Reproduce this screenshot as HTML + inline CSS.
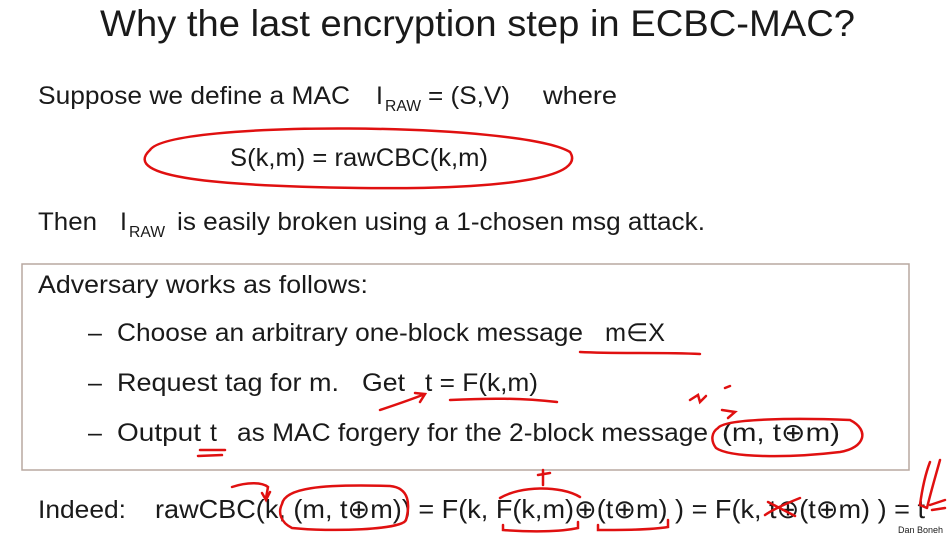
<!DOCTYPE html>
<html><head><meta charset="utf-8"><style>
body{margin:0;background:#fff;}
svg{display:block}
text{font-family:"Liberation Sans",sans-serif;fill:#1a1a1a}
</style></head><body>
<svg width="952" height="537" viewBox="0 0 952 537">
<rect width="952" height="537" fill="#fff"/>
<text x="100" y="36" font-size="37" textLength="755" lengthAdjust="spacingAndGlyphs">Why the last encryption step in ECBC-MAC?</text>
<text x="38" y="104" font-size="25" textLength="312" lengthAdjust="spacingAndGlyphs">Suppose we define a MAC</text>
<text x="376" y="104" font-size="25">I</text><text x="385" y="111" font-size="16" textLength="36" lengthAdjust="spacingAndGlyphs">RAW</text>
<text x="428" y="104" font-size="25" textLength="82" lengthAdjust="spacingAndGlyphs">= (S,V)</text>
<text x="543" y="104" font-size="25" textLength="74" lengthAdjust="spacingAndGlyphs">where</text>
<text x="230" y="166" font-size="25" textLength="258" lengthAdjust="spacingAndGlyphs">S(k,m) = rawCBC(k,m)</text>
<path d="M150,150 C170,120 520,122 570,152 C585,175 520,190 360,188 C220,186 120,178 150,150 Z" fill="none" stroke="#e01010" stroke-width="2.5"/>
<text x="38" y="230" font-size="25" textLength="59" lengthAdjust="spacingAndGlyphs">Then</text>
<text x="120" y="230" font-size="25">I</text><text x="129" y="237" font-size="16" textLength="36" lengthAdjust="spacingAndGlyphs">RAW</text>
<text x="177" y="230" font-size="25" textLength="528" lengthAdjust="spacingAndGlyphs">is easily broken using a 1-chosen msg attack.</text>
<rect x="22" y="264" width="887" height="206" fill="none" stroke="#b8a8a0" stroke-width="1.5"/>
<text x="38" y="293" font-size="25" textLength="330" lengthAdjust="spacingAndGlyphs">Adversary works as follows:</text>
<text x="88" y="341" font-size="25">–</text>
<text x="117" y="341" font-size="25" textLength="466" lengthAdjust="spacingAndGlyphs">Choose an arbitrary one-block message</text>
<text x="605" y="341" font-size="25" textLength="60" lengthAdjust="spacingAndGlyphs">m∈X</text>
<text x="88" y="391" font-size="25">–</text>
<text x="117" y="391" font-size="25" textLength="222" lengthAdjust="spacingAndGlyphs">Request tag for m.</text>
<text x="362" y="391" font-size="25" textLength="43" lengthAdjust="spacingAndGlyphs">Get</text>
<text x="425" y="391" font-size="25" textLength="113" lengthAdjust="spacingAndGlyphs">t = F(k,m)</text>
<text x="88" y="441" font-size="25">–</text>
<text x="117" y="441" font-size="25" textLength="84" lengthAdjust="spacingAndGlyphs">Output</text>
<text x="210" y="441" font-size="25">t</text>
<text x="237" y="441" font-size="25" textLength="471" lengthAdjust="spacingAndGlyphs">as MAC forgery for the 2-block message</text>
<text x="722" y="441" font-size="25" textLength="118" lengthAdjust="spacingAndGlyphs">(m,  t⊕m)</text>
<text x="38" y="518" font-size="25" textLength="88" lengthAdjust="spacingAndGlyphs">Indeed:</text>
<text x="155" y="518" font-size="26" textLength="770" lengthAdjust="spacingAndGlyphs">rawCBC(k, (m,  t⊕m)) = F(k, F(k,m)⊕(t⊕m) ) = F(k, t⊕(t⊕m) ) = t</text>
<text x="898" y="533" font-size="9" fill="#333">Dan Boneh</text>
<g fill="none" stroke="#e01010" stroke-width="2.5" stroke-linecap="round">
<path d="M580,352 C620,354 660,352 700,354"/>
<path d="M450,400 C490,398 520,398 557,402"/>
<path d="M380,410 C395,405 410,400 425,394 M415,393 L425,394 L420,402"/>
<path d="M200,450 L225,450 M198,456 L222,455"/>
<path d="M718,428 C725,418 800,418 850,420 C870,430 865,448 840,452 C790,458 730,458 716,448 C710,440 712,432 718,428"/>
<path d="M690,400 L698,395 L700,402 L706,396 M725,388 L730,386 M722,410 L735,412 L728,418"/>
<path d="M282,504 C285,488 320,484 390,486 C410,488 410,505 406,520 C402,530 330,532 292,528 C280,522 278,512 282,504"/>
<path d="M232,487 C247,482 262,482 268,487 L266,498 M262,493 L266,500 L270,492"/>
<path d="M500,498 C520,486 560,485 580,497"/>
<path d="M503,525 L503,530 C530,532 560,532 578,528 L578,522"/>
<path d="M598,525 L598,530 C620,530 650,530 668,527 L668,520"/>
<path d="M543,470 L543,485 M538,475 L550,473"/>
<path d="M765,515 C775,508 790,502 800,498 M768,502 L795,516"/>
<path d="M930,462 C925,475 922,490 920,505 M940,460 C935,478 930,495 927,508 M920,505 L927,508"/>
<path d="M945,500 L930,505 M945,508 L932,510"/>
</g>
</svg>
</body></html>
